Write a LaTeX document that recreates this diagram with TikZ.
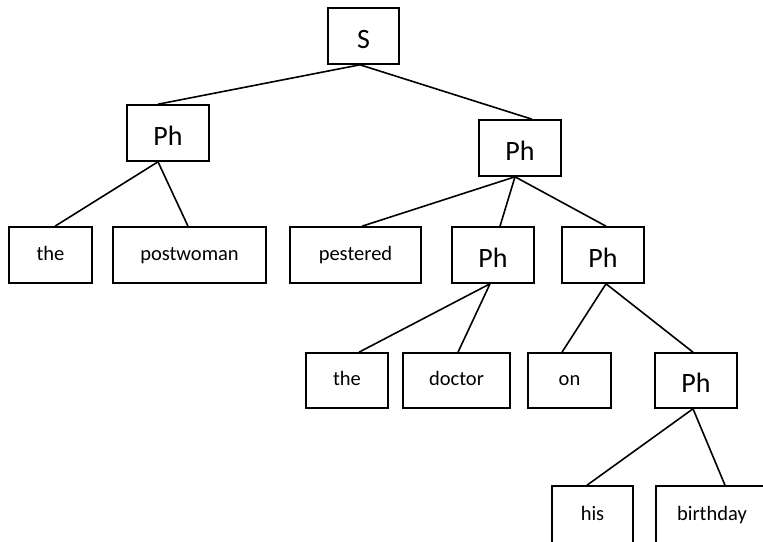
\documentclass[tikz,border=0pt]{standalone}
\usepackage{fontspec}
\setmainfont{Carlito}
\begin{document}
\begin{tikzpicture}[x=1pt,y=-1pt,
  box/.style={draw=black, line width=1.6pt, inner sep=0pt, minimum height=56pt},
  word/.style={box, font=\fontsize{20.5}{24}\selectfont, text height=14pt, text depth=4pt},
  phrase/.style={box, font=\fontsize{28}{32}\selectfont, text height=24pt, text depth=0pt},
  edge/.style={line width=1.6pt}]
\useasboundingbox (0,0) rectangle (763,541);
\clip (0,0) rectangle (763,541);
% tree nodes
\node[phrase, minimum width=71pt] (s) at (363.5,36) {S};
\node[phrase, minimum width=82pt] (ph1) at (168,133) {Ph};
\node[phrase, minimum width=82pt] (ph2) at (520,148) {Ph};
\node[word, minimum width=83pt] (the1) at (50.5,255) {the};
\node[word, minimum width=153pt] (postwoman) at (189.5,255) {postwoman};
\node[word, minimum width=131pt] (pestered) at (355.5,255) {pestered};
\node[phrase, minimum width=82pt] (ph3) at (493,255) {Ph};
\node[phrase, minimum width=82pt] (ph4) at (603,255) {Ph};
\node[word, minimum width=82pt, minimum height=55pt] (the2) at (347,380.5) {the};
\node[word, minimum width=107pt, minimum height=55pt] (doctor) at (456.5,380.5) {doctor};
\node[word, minimum width=83pt, minimum height=55pt] (on) at (569.5,380.5) {on};
\node[phrase, minimum width=82pt, minimum height=55pt] (ph5) at (696,380.5) {Ph};
\node[word, minimum width=81pt, minimum height=58pt] (his) at (592.5,515) {his};
\node[word, minimum width=112pt, minimum height=58pt] (birthday) at (712,515) {birthday};
% branches
\draw[edge] ([xshift=-3.5pt]s.south) -- ([xshift=-10pt]ph1.north);
\draw[edge] ([xshift=-3.5pt]s.south) -- ([xshift=12pt]ph2.north);
\draw[edge] ([xshift=-10pt]ph1.south) -- ([xshift=4.5pt]the1.north);
\draw[edge] ([xshift=-10pt]ph1.south) -- ([xshift=-1.5pt]postwoman.north);
\draw[edge] ([xshift=-5pt]ph2.south) -- ([xshift=6.5pt]pestered.north);
\draw[edge] ([xshift=-5pt]ph2.south) -- ([xshift=7pt]ph3.north);
\draw[edge] ([xshift=-5pt]ph2.south) -- ([xshift=3pt]ph4.north);
\draw[edge] ([xshift=-3pt]ph3.south) -- ([xshift=12pt]the2.north);
\draw[edge] ([xshift=-3pt]ph3.south) -- ([xshift=1.5pt]doctor.north);
\draw[edge] ([xshift=3pt]ph4.south) -- ([xshift=-7.5pt]on.north);
\draw[edge] ([xshift=3pt]ph4.south) -- ([xshift=-3pt]ph5.north);
\draw[edge] ([xshift=-3pt]ph5.south) -- ([xshift=-5.5pt]his.north);
\draw[edge] ([xshift=-3pt]ph5.south) -- ([xshift=13pt]birthday.north);
\end{tikzpicture}
\end{document}
